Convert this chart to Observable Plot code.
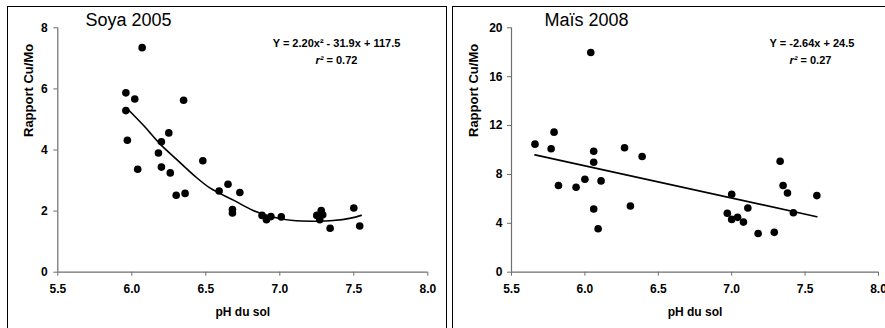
<!DOCTYPE html>
<html>
<head>
<meta charset="utf-8">
<script src="https://cdn.jsdelivr.net/npm/d3@7"></script>
<script src="https://cdn.jsdelivr.net/npm/@observablehq/plot@0.6"></script>
<style>
  html, body { margin: 0; padding: 0; background: #fff; overflow: hidden; }
  #page { position: relative; width: 885px; height: 328px; overflow: hidden; }
  .frame { position: absolute; border: 1.5px solid #000; box-sizing: border-box; }
  .panel { position: absolute; top: 0; }
  .panel svg { overflow: visible; }
</style>
</head>
<body>
<div id="page">
  <div class="frame" style="left:7px; top:6px; width:440px; height:340px;"></div>
  <div class="frame" style="left:452px; top:6px; width:450px; height:340px;"></div>
  <div class="panel" id="p1" style="left:0px;"></div>
  <div class="panel" id="p2" style="left:446px;"></div>
</div>
<script>
// ---- Data ----
const xTicks = [5.5, 6.0, 6.5, 7.0, 7.5, 8.0];

// Soya 2005
const soyaTitle = "Soya 2005";
const soyaEquation = "Y = 2.20x² - 31.9x + 117.5";
const soyaR2 = "= 0.72";
const soyaYTicks = [0, 2, 4, 6, 8];
const soyaPH = [5.96, 5.96, 5.97, 6.02, 6.07, 6.04, 6.18, 6.20, 6.20, 6.25, 6.26, 6.30, 6.35, 6.36, 6.48,
  6.59, 6.65, 6.68, 6.68, 6.73, 6.88, 6.91, 6.94, 7.01, 7.25, 7.27, 7.28, 7.29, 7.34, 7.50, 7.54];
const soyaRatio = [5.87, 5.29, 4.32, 5.67, 7.35, 3.37, 3.90, 4.27, 3.44, 4.56, 3.25, 2.52, 5.63, 2.58, 3.65,
  2.66, 2.88, 2.05, 1.94, 2.61, 1.86, 1.72, 1.82, 1.81, 1.86, 1.72, 2.02, 1.88, 1.44, 2.10, 1.51];
// fitted curve
const soyaCurvePH = [5.97, 6.08, 6.19, 6.31, 6.42, 6.53, 6.69, 6.82, 6.96, 7.09, 7.25, 7.36, 7.48, 7.55];
const soyaCurveRatio = [5.35, 4.80, 4.20, 3.66, 3.17, 2.75, 2.35, 2.02, 1.80, 1.69, 1.67, 1.69, 1.77, 1.86];

// Maïs 2008
const maisTitle = "Maïs 2008";
const maisEquation = "Y = -2.64x + 24.5";
const maisR2 = "= 0.27";
const maisYTicks = [0, 4, 8, 12, 16, 20];
const maisPH = [5.66, 5.77, 5.79, 5.82, 5.94, 6.00, 6.04, 6.06, 6.06, 6.06, 6.09, 6.11, 6.27, 6.31,
  6.39, 6.97, 7.00, 7.00, 7.04, 7.08, 7.11, 7.18, 7.29, 7.33, 7.35, 7.38, 7.42, 7.58];
const maisRatio = [10.48, 10.10, 11.46, 7.09, 6.95, 7.61, 17.98, 9.90, 9.00, 5.17, 3.56, 7.47, 10.18, 5.42,
  9.47, 4.82, 6.37, 4.32, 4.49, 4.10, 5.25, 3.17, 3.26, 9.08, 7.09, 6.48, 4.87, 6.27];
const maisLinePH = [5.66, 7.58];
const maisLineRatio = [9.60, 4.54];

const xLabel = "pH du sol";
const yLabel = "Rapport Cu/Mo";

// ---- Drawing ----
const FONT = "'Liberation Sans', Arial, Helvetica, sans-serif";
const AXIS = "#6e6e6e";

function panel(cfg) {
  const pts = cfg.ph.map((x, i) => ({x, y: cfg.ratio[i]}));
  const fit = cfg.fitPH.map((x, i) => ({x, y: cfg.fitRatio[i]}));
  return Plot.plot({
    width: cfg.width,
    height: cfg.height,
    marginLeft: cfg.marginLeft,
    marginRight: cfg.marginRight,
    marginTop: cfg.marginTop,
    marginBottom: cfg.marginBottom,
    style: {fontFamily: FONT, fontWeight: "bold", fontSize: "12px", background: "transparent", color: "#000", overflow: "visible"},
    x: {domain: [5.5, 8.0]},
    y: {domain: [0, cfg.yTicks[cfg.yTicks.length - 1]]},
    marks: [
      Plot.axisX(xTicks, {tickSize: 4, tickPadding: 8, tickFormat: d3.format(".1f"), stroke: AXIS, fontSize: 12, fontWeight: "bold", label: null}),
      Plot.axisY(cfg.yTicks, {tickSize: 4, tickPadding: cfg.yPad, tickFormat: d => String(d), stroke: AXIS, fontSize: 12, fontWeight: "bold", label: null}),
      Plot.ruleX([5.5], {stroke: AXIS, strokeWidth: 1.2}),
      Plot.ruleY([0], {stroke: AXIS, strokeWidth: 1.2}),
      Plot.line(fit, {x: "x", y: "y", stroke: "#000", strokeWidth: 1.6, curve: "catmull-rom"}),
      Plot.dot(pts, {x: "x", y: "y", r: 3.8, fill: "#000", stroke: "none"}),
      // axis titles
      Plot.text([xLabel], {frameAnchor: "bottom", dy: 40, lineAnchor: "middle", fontSize: 12, fontWeight: "bold"}),
      Plot.text([yLabel], {frameAnchor: "left", dx: cfg.yLabelDx, dy: -13, rotate: -90, lineAnchor: "middle", fontSize: 13, fontWeight: "bold", letterSpacing: "1px"}),
      // panel title
      Plot.text([cfg.title], {frameAnchor: "top-left", dx: cfg.titleDx, dy: -7.5, textAnchor: "start", lineAnchor: "middle", fontSize: 18, fontWeight: "normal"}),
      // equation
      Plot.text([cfg.equation], {frameAnchor: "top-left", dx: cfg.eqCx, dy: 15.5, textAnchor: "middle", lineAnchor: "middle", fontSize: 11, fontWeight: "bold", letterSpacing: "0.7px"}),
      Plot.text(["r²"], {frameAnchor: "top-left", dx: cfg.r2Split, dy: 32.5, textAnchor: "end", lineAnchor: "middle", fontSize: 11, fontWeight: "bold", fontStyle: "italic"}),
      Plot.text([cfg.r2], {frameAnchor: "top-left", dx: cfg.r2Split + 3, dy: 32.5, textAnchor: "start", lineAnchor: "middle", fontSize: 11, fontWeight: "bold", letterSpacing: "0.4px"})
    ]
  });
}

document.getElementById("p1").appendChild(panel({
  width: 446, height: 328,
  marginLeft: 57.3, marginRight: 18.7, marginTop: 27.3, marginBottom: 56.3,
  yTicks: soyaYTicks, yPad: 6, yLabelDx: -29.3,
  ph: soyaPH, ratio: soyaRatio, fitPH: soyaCurvePH, fitRatio: soyaCurveRatio,
  title: soyaTitle, titleDx: 27.7, equation: soyaEquation, eqCx: 278.7, r2: soyaR2, r2Split: 265.7
}));

document.getElementById("p2").appendChild(panel({
  width: 439, height: 328,
  marginLeft: 65, marginRight: 7, marginTop: 27.3, marginBottom: 56.3,
  yTicks: maisYTicks, yPad: 5, yLabelDx: -38,
  ph: maisPH, ratio: maisRatio, fitPH: maisLinePH, fitRatio: maisLineRatio,
  title: maisTitle, titleDx: 33, equation: maisEquation, eqCx: 300.5, r2: maisR2, r2Split: 286
}));
</script>
</body>
</html>
